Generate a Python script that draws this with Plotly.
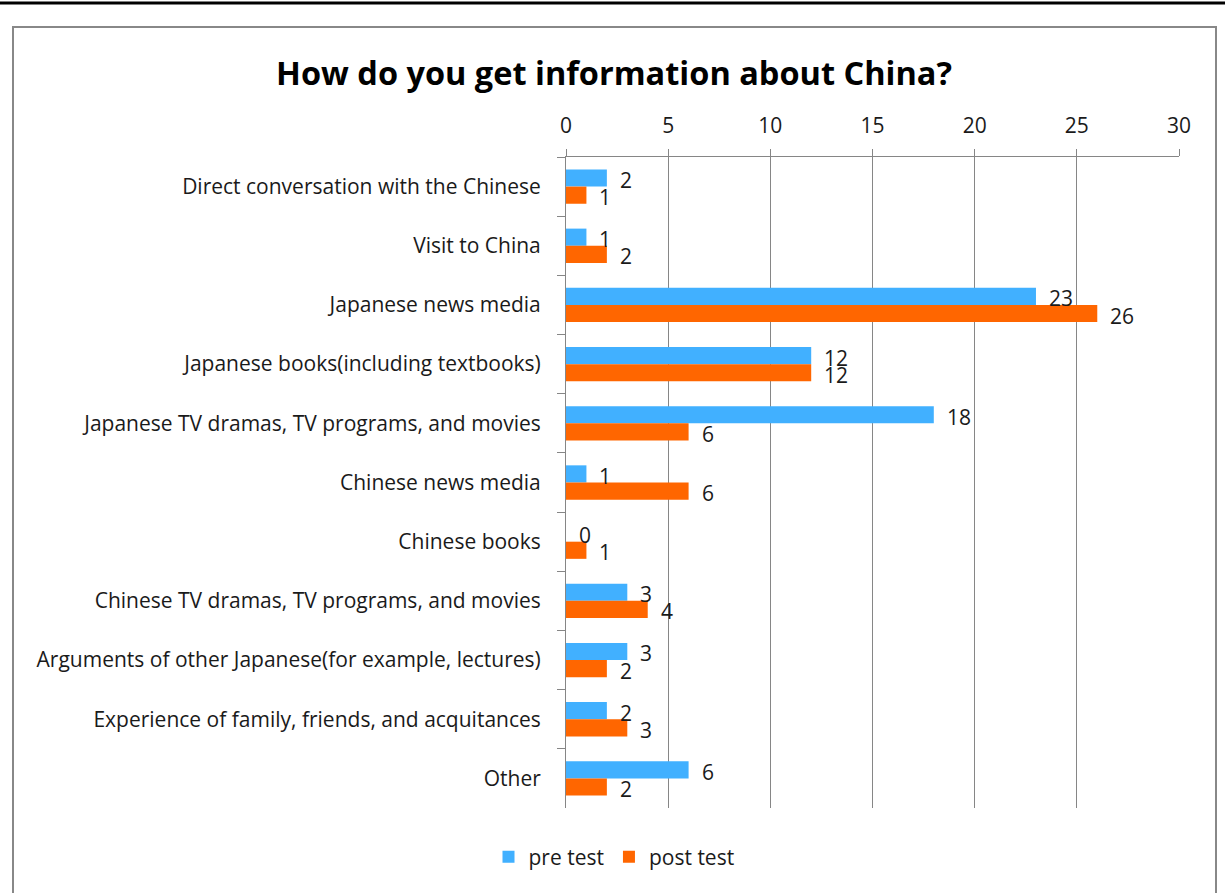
import plotly.graph_objects as go

categories = [
    "Direct conversation with the Chinese",
    "Visit to China",
    "Japanese news media",
    "Japanese books(including textbooks)",
    "Japanese TV dramas, TV programs, and movies",
    "Chinese news media",
    "Chinese books",
    "Chinese TV dramas, TV programs, and movies",
    "Arguments of other Japanese(for example, lectures)",
    "Experience of family, friends, and acquitances",
    "Other",
]
pre_test = [2, 1, 23, 12, 18, 1, 0, 3, 3, 2, 6]
post_test = [1, 2, 26, 12, 6, 6, 1, 4, 2, 3, 2]
x_ticks = [0, 5, 10, 15, 20, 25, 30]

FONT = "Open Sans"
FS = 21
TXT = "#1a1a1a"
W, H = 1225, 893
PL, PR, PT, PB = 566, 1179, 157, 808  # plot area in pixels

BLUE = "#41B0FF"
ORANGE = "#FF6600"
GRID = "#868686"

fig = go.Figure()
fig.add_trace(go.Bar(y=categories, x=pre_test, orientation="h", name="pre test",
                     marker=dict(color=BLUE, line=dict(width=0))))
fig.add_trace(go.Bar(y=categories, x=post_test, orientation="h", name="post test",
                     marker=dict(color=ORANGE, line=dict(width=0))))

BARGAP = 0.42
half = (1 - BARGAP) / 4
ann = []
for i, c in enumerate(categories):
    for val, off in ((pre_test[i], -half), (post_test[i], half)):
        ann.append(dict(x=val, y=i + off, xref="x", yref="y", text=str(val),
                        showarrow=False, xanchor="left", yanchor="middle",
                        xshift=11, yshift=-2,
                        font=dict(family=FONT, size=FS, color=TXT)))


def px2paper_x(px):
    return (px - PL) / (PR - PL)


def px2paper_y(py):
    return (PB - py) / (PB - PT)


shapes = [
    # outer chart frame
    dict(type="rect", xref="paper", yref="paper",
         x0=px2paper_x(13), x1=px2paper_x(1216), y0=px2paper_y(905), y1=px2paper_y(27),
         line=dict(color="#888888", width=2), fillcolor="rgba(0,0,0,0)", layer="below"),
    # top black rule
    dict(type="line", xref="paper", yref="paper",
         x0=px2paper_x(0), x1=px2paper_x(W), y0=px2paper_y(3), y1=px2paper_y(3),
         line=dict(color="#000000", width=3)),
]

fig.update_layout(
    width=W, height=H,
    margin=dict(l=PL, r=W - PR, t=PT, b=H - PB, pad=0),
    paper_bgcolor="white", plot_bgcolor="white",
    barmode="group", bargap=BARGAP, bargroupgap=0,
    title=dict(text="<b>How do you get information about China?</b>",
               x=px2paper_x(614), xref="paper", xanchor="center",
               y=1 - 74 / H, yref="container", yanchor="middle",
               font=dict(family=FONT, size=32.5, color="#000000")),
    font=dict(family=FONT, size=FS, color=TXT),
    xaxis=dict(side="top", range=[0, 30], tickvals=x_ticks, showgrid=True,
               gridcolor=GRID, gridwidth=1, zeroline=False,
               showline=True, linecolor=GRID, linewidth=1,
               ticks="outside", ticklen=7, tickcolor=GRID,
               ticklabelstandoff=8,
               tickfont=dict(family=FONT, size=FS, color=TXT),
               fixedrange=True),
    yaxis=dict(autorange="reversed", type="category", showgrid=False,
               showline=True, linecolor=GRID, linewidth=1,
               ticks="outside", ticklen=8, tickcolor=GRID, tickson="boundaries",
               ticklabelstandoff=20,
               tickfont=dict(family=FONT, size=FS, color=TXT)),
    legend=dict(orientation="h", x=px2paper_x(614), xanchor="center",
                y=px2paper_y(857), yanchor="middle",
                font=dict(family=FONT, size=FS, color=TXT),
                itemwidth=30, traceorder="normal"),
    annotations=ann,
    shapes=shapes,
)

fig.write_html("out.html")
